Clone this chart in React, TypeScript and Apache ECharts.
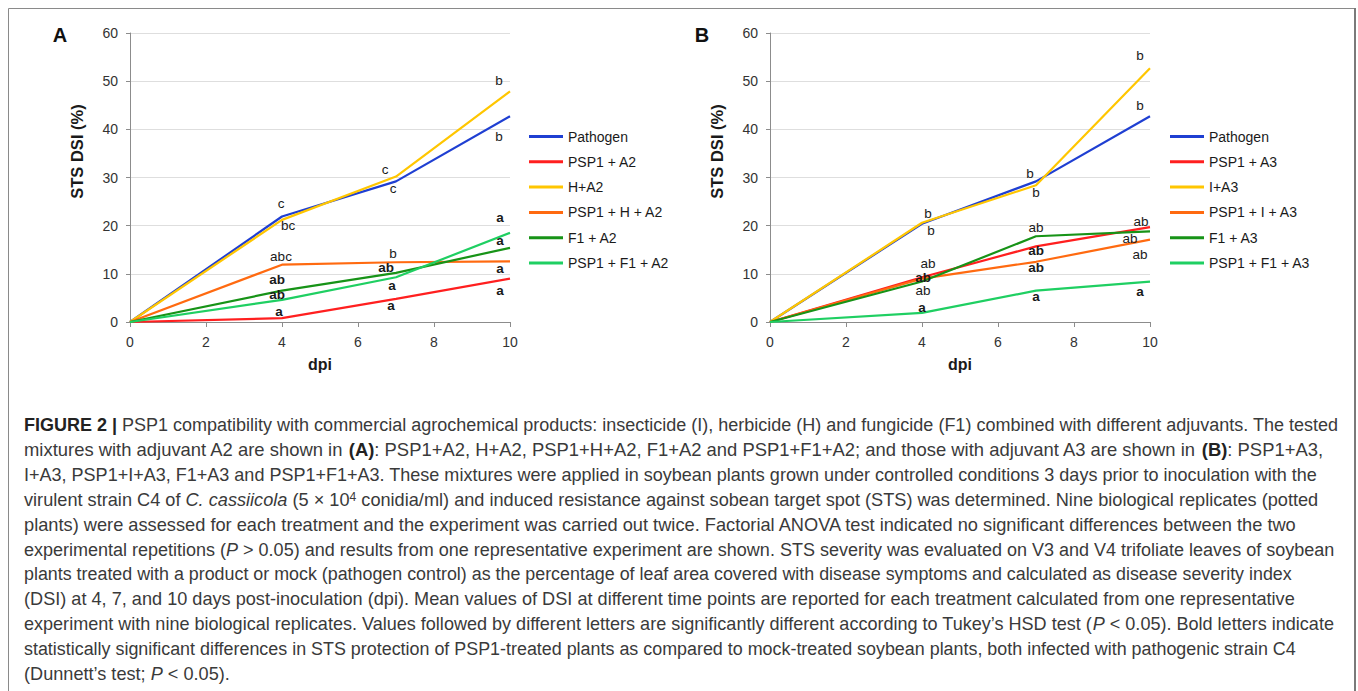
import React, { useEffect, useRef } from "react";
import * as echarts from "echarts";

const FONT = '"Liberation Sans", Arial, Helvetica, sans-serif';
const CAP_FONT = '"Liberation Sans Narrow", "Liberation Sans", Arial, sans-serif';

// x values (days post-inoculation)
const dpi = [0, 4, 7, 10];

// Panel A (adjuvant A2)
const namesA = ["Pathogen", "PSP1 + A2", "H+A2", "PSP1 + H + A2", "F1 + A2", "PSP1 + F1 + A2"];
const pathogenA = [0, 21.9, 29.2, 42.7];
const psp1A2 = [0, 0.8, 4.8, 9.0];
const hA2 = [0, 21.2, 30.2, 47.9];
const psp1hA2 = [0, 11.9, 12.4, 12.6];
const f1A2 = [0, 6.5, 10.2, 15.4];
const psp1f1A2 = [0, 4.6, 9.3, 18.5];

const pathogenALetters = ["", "c", "c", "b"];
const psp1A2Letters = ["", "a", "a", "a"];
const hA2Letters = ["", "bc", "c", "b"];
const psp1hA2Letters = ["", "abc", "b", "a"];
const f1A2Letters = ["", "ab", "ab", "a"];
const psp1f1A2Letters = ["", "ab", "a", "a"];

// significant (bold letters)
const pathogenASig = [false, false, false, false];
const psp1A2Sig = [false, true, true, true];
const hA2Sig = [false, false, false, false];
const psp1hA2Sig = [false, false, false, true];
const f1A2Sig = [false, true, true, true];
const psp1f1A2Sig = [false, true, true, true];

// Panel B (adjuvant A3)
const namesB = ["Pathogen", "PSP1 + A3", "I+A3", "PSP1 + I + A3", "F1 + A3", "PSP1 + F1 + A3"];
const pathogenB = [0, 20.4, 29.2, 42.7];
const psp1A3 = [0, 9.3, 15.7, 19.7];
const iA3 = [0, 20.6, 28.4, 52.7];
const psp1iA3 = [0, 9.0, 12.5, 17.1];
const f1A3 = [0, 8.4, 17.8, 18.8];
const psp1f1A3 = [0, 1.9, 6.5, 8.4];

const pathogenBLetters = ["", "b", "b", "b"];
const psp1A3Letters = ["", "ab", "ab", "ab"];
const iA3Letters = ["", "b", "b", "b"];
const psp1iA3Letters = ["", "ab", "ab", "ab"];
const f1A3Letters = ["", "ab", "ab", "ab"];
const psp1f1A3Letters = ["", "a", "a", "a"];

const pathogenBSig = [false, false, false, false];
const psp1A3Sig = [false, false, true, false];
const iA3Sig = [false, false, false, false];
const psp1iA3Sig = [false, true, true, false];
const f1A3Sig = [false, false, false, false];
const psp1f1A3Sig = [false, true, true, true];

// axis ticks
const yTicks = { min: 0, max: 60, interval: 10 };
const xTicks = { min: 0, max: 10, interval: 2 };

// label placement (pixel offsets from the point) - style, not data
const offA: Record<string, number[][]> = {
  pathogen: [[0, 0], [-1, -13], [-3, 7], [-11, 20]],
  psp1: [[0, 0], [-3, -7], [-5, 7], [-10, 12]],
  h: [[0, 0], [6, 6], [-11, -7], [-11, -11]],
  psp1h: [[0, 0], [-1, -8], [-3, -9], [-10, 7]],
  f1: [[0, 0], [-5, -11], [-10, -5], [-10, -7]],
  psp1f1: [[0, 0], [-5, -5], [-4, 8], [-10, -15]],
};
const offB: Record<string, number[][]> = {
  pathogen: [[0, 0], [6, -10], [-6, -8], [-10, -11]],
  psp1: [[0, 0], [6, -14], [0, 4], [-9, -6]],
  i: [[0, 0], [9, 8], [0, 7], [-10, -13]],
  psp1i: [[0, 0], [1, -1], [0, 6], [-10, 15]],
  f1: [[0, 0], [1, 9], [0, -9], [-20, 7]],
  psp1f1: [[0, 0], [0, -5], [0, 6], [-10, 10]],
};

const COLORS = {
  blue: "#1f3fd2",
  red: "#ff1f1f",
  yellow: "#ffc600",
  orange: "#ff6a10",
  green: "#179317",
  light: "#1fcf62",
};

type Seg = [string, string];
const captionLines: Seg[][] = [
  [["b", "FIGURE 2 | "], ["n", "PSP1 compatibility with commercial agrochemical products: insecticide (I), herbicide (H) and fungicide (F1) combined with different adjuvants. The tested"]],
  [["n", "mixtures with adjuvant A2 are shown in "], ["b", "(A)"], ["n", ": PSP1+A2, H+A2, PSP1+H+A2, F1+A2 and PSP1+F1+A2; and those with adjuvant A3 are shown in "], ["b", "(B)"], ["n", ": PSP1+A3,"]],
  [["n", "I+A3, PSP1+I+A3, F1+A3 and PSP1+F1+A3. These mixtures were applied in soybean plants grown under controlled conditions 3 days prior to inoculation with the"]],
  [["n", "virulent strain C4 of "], ["i", "C. cassiicola"], ["n", " (5 × 10"], ["s", "4"], ["n", " conidia/ml) and induced resistance against sobean target spot (STS) was determined. Nine biological replicates (potted"]],
  [["n", "plants) were assessed for each treatment and the experiment was carried out twice. Factorial ANOVA test indicated no significant differences between the two"]],
  [["n", "experimental repetitions ("], ["i", "P"], ["n", " > 0.05) and results from one representative experiment are shown. STS severity was evaluated on V3 and V4 trifoliate leaves of soybean"]],
  [["n", "plants treated with a product or mock (pathogen control) as the percentage of leaf area covered with disease symptoms and calculated as disease severity index"]],
  [["n", "(DSI) at 4, 7, and 10 days post-inoculation (dpi). Mean values of DSI at different time points are reported for each treatment calculated from one representative"]],
  [["n", "experiment with nine biological replicates. Values followed by different letters are significantly different according to Tukey’s HSD test ("], ["i", "P"], ["n", " < 0.05). Bold letters indicate"]],
  [["n", "statistically significant differences in STS protection of PSP1-treated plants as compared to mock-treated soybean plants, both infected with pathogenic strain C4"]],
  [["n", "(Dunnett’s test; "], ["i", "P"], ["n", " < 0.05)."]],
];
const captionEnds = [1338, 1323, 1318, 1318, 1298, 1334, 1293, 1296, 1334, 1297, 230];

const CAP_SIZE = 18;
const CAP_FILL = "#3a3a3a";
const capStyles: Record<string, any> = {
  n: { fontFamily: CAP_FONT, fontSize: CAP_SIZE, fontWeight: "normal", fontStyle: "normal", fill: CAP_FILL },
  b: { fontFamily: CAP_FONT, fontSize: CAP_SIZE, fontWeight: "bold", fontStyle: "normal", fill: "#222" },
  i: { fontFamily: CAP_FONT, fontSize: CAP_SIZE, fontWeight: "normal", fontStyle: "italic", fill: CAP_FILL },
  s: { fontFamily: CAP_FONT, fontSize: 12, fontWeight: "normal", fontStyle: "normal", fill: CAP_FILL, verticalAlign: "top" },
};

function makeSeries(
  name: string, values: number[], letters: string[], sig: boolean[], offsets: number[][],
  color: string, idx: number
) {
  return {
    type: "line",
    name,
    xAxisIndex: idx,
    yAxisIndex: idx,
    data: values.map((v, i) => ({
      value: [dpi[i], v],
      label: letters[i]
        ? { show: true, formatter: letters[i], offset: offsets[i], fontWeight: sig[i] ? "bold" : "normal" }
        : { show: false },
    })),
    symbol: "circle",
    symbolSize: 0,
    showSymbol: true,
    showAllSymbol: true,
    clip: false,
    silent: true,
    lineStyle: { color, width: 2.2 },
    itemStyle: { color },
    label: { show: true, position: "inside", fontSize: 13.5, color: "#1a1a1a", fontFamily: FONT },
    emphasis: { disabled: true },
  };
}

function axisPair(idx: number) {
  const x = {
    type: "value",
    gridIndex: idx,
    ...xTicks,
    name: "dpi",
    nameLocation: "middle",
    nameGap: 34,
    nameTextStyle: { fontSize: 16, fontWeight: "bold", color: "#1a1a1a", fontFamily: FONT },
    axisLine: { show: true, lineStyle: { color: "#8c8c8c", width: 1 } },
    axisTick: { show: true, length: 5, lineStyle: { color: "#8c8c8c" } },
    axisLabel: { fontSize: 14, color: "#333", fontFamily: FONT, margin: 13 },
    splitLine: { show: false },
  };
  const y = {
    type: "value",
    gridIndex: idx,
    ...yTicks,
    name: "STS DSI (%)",
    nameLocation: "middle",
    nameGap: 45,
    nameTextStyle: { fontSize: 16.5, fontWeight: "bold", color: "#1a1a1a", fontFamily: FONT, padding: [0, 0, 0, 52] },
    axisLine: { show: true, lineStyle: { color: "#8c8c8c", width: 1 } },
    axisTick: { show: true, length: 4, lineStyle: { color: "#8c8c8c" } },
    axisLabel: { fontSize: 14, color: "#333", fontFamily: FONT, margin: 12 },
    splitLine: { show: true, lineStyle: { color: "#dedede", width: 1 } },
  };
  return { x, y };
}

function legendFor(names: string[], left: number) {
  return {
    orient: "vertical",
    left,
    top: 123.5,
    data: names,
    icon: "rect",
    itemWidth: 34,
    itemHeight: 3,
    itemGap: 9.3,
    selectedMode: false,
    textStyle: { fontSize: 14, lineHeight: 16, color: "#1a1a1a", fontFamily: FONT },
  };
}

function buildCaption() {
  const canvas = document.createElement("canvas");
  const ctx = canvas.getContext("2d")!;
  const measure = (key: string, text: string) => {
    const s = capStyles[key];
    ctx.font = `${s.fontStyle} ${s.fontWeight} ${s.fontSize}px ${s.fontFamily}`;
    return ctx.measureText(text).width;
  };
  const startX = 24;
  return captionLines.map((line, li) => {
    const w = line.reduce((acc, [k, t]) => acc + measure(k, t), 0);
    const target = captionEnds[li] - startX;
    const scaleX = w > 0 ? target / w : 1;
    const text = line.map(([k, t]) => `{${k}|${t}}`).join("");
    return {
      type: "text",
      x: startX,
      y: 425 + li * 24.9,
      scaleX,
      silent: true,
      style: {
        text,
        rich: capStyles,
        fontFamily: CAP_FONT,
        fontSize: CAP_SIZE,
        fill: CAP_FILL,
        align: "left",
        verticalAlign: "middle",
      },
    };
  });
}

export default function App() {
  const ref = useRef<HTMLDivElement>(null);
  useEffect(() => {
    if (!ref.current) return;
    const chart = echarts.init(ref.current, undefined, { renderer: "svg" });
    const a = axisPair(0);
    const b = axisPair(1);
    const option: any = {
      animation: false,
      backgroundColor: "#ffffff",
      textStyle: { fontFamily: FONT },
      grid: [
        { left: 130, top: 33, width: 380, height: 289 },
        { left: 770, top: 33, width: 380, height: 289 },
      ],
      xAxis: [a.x, b.x],
      yAxis: [a.y, b.y],
      legend: [legendFor(namesA, 524), legendFor(namesB, 1165)],
      series: [
        makeSeries("Pathogen", pathogenA, pathogenALetters, pathogenASig, offA.pathogen, COLORS.blue, 0),
        makeSeries("PSP1 + A2", psp1A2, psp1A2Letters, psp1A2Sig, offA.psp1, COLORS.red, 0),
        makeSeries("H+A2", hA2, hA2Letters, hA2Sig, offA.h, COLORS.yellow, 0),
        makeSeries("PSP1 + H + A2", psp1hA2, psp1hA2Letters, psp1hA2Sig, offA.psp1h, COLORS.orange, 0),
        makeSeries("F1 + A2", f1A2, f1A2Letters, f1A2Sig, offA.f1, COLORS.green, 0),
        makeSeries("PSP1 + F1 + A2", psp1f1A2, psp1f1A2Letters, psp1f1A2Sig, offA.psp1f1, COLORS.light, 0),
        makeSeries("Pathogen", pathogenB, pathogenBLetters, pathogenBSig, offB.pathogen, COLORS.blue, 1),
        makeSeries("PSP1 + A3", psp1A3, psp1A3Letters, psp1A3Sig, offB.psp1, COLORS.red, 1),
        makeSeries("I+A3", iA3, iA3Letters, iA3Sig, offB.i, COLORS.yellow, 1),
        makeSeries("PSP1 + I + A3", psp1iA3, psp1iA3Letters, psp1iA3Sig, offB.psp1i, COLORS.orange, 1),
        makeSeries("F1 + A3", f1A3, f1A3Letters, f1A3Sig, offB.f1, COLORS.green, 1),
        makeSeries("PSP1 + F1 + A3", psp1f1A3, psp1f1A3Letters, psp1f1A3Sig, offB.psp1f1, COLORS.light, 1),
      ],
      graphic: [
        {
          type: "rect",
          silent: true,
          shape: { x: 8.5, y: 8.5, width: 1346, height: 720 },
          style: { fill: "none", stroke: "#8a8a8a", lineWidth: 1 },
        },
        {
          type: "line",
          silent: true,
          shape: { x1: 1355, y1: 8, x2: 1355, y2: 700 },
          style: { stroke: "#7a7a7a", lineWidth: 2 },
        },
        {
          type: "text",
          x: 60,
          y: 35,
          silent: true,
          style: { text: "A", fontSize: 20, fontWeight: "bold", fontFamily: FONT, fill: "#111", align: "center", verticalAlign: "middle" },
        },
        {
          type: "text",
          x: 702,
          y: 35,
          silent: true,
          style: { text: "B", fontSize: 20, fontWeight: "bold", fontFamily: FONT, fill: "#111", align: "center", verticalAlign: "middle" },
        },
        ...buildCaption(),
      ],
    };
    chart.setOption(option);
    return () => chart.dispose();
  }, []);
  return (
    <div
      ref={ref}
      style={{ position: "fixed", left: 0, top: 0, width: 1358, height: 691, background: "#fff" }}
    />
  );
}
